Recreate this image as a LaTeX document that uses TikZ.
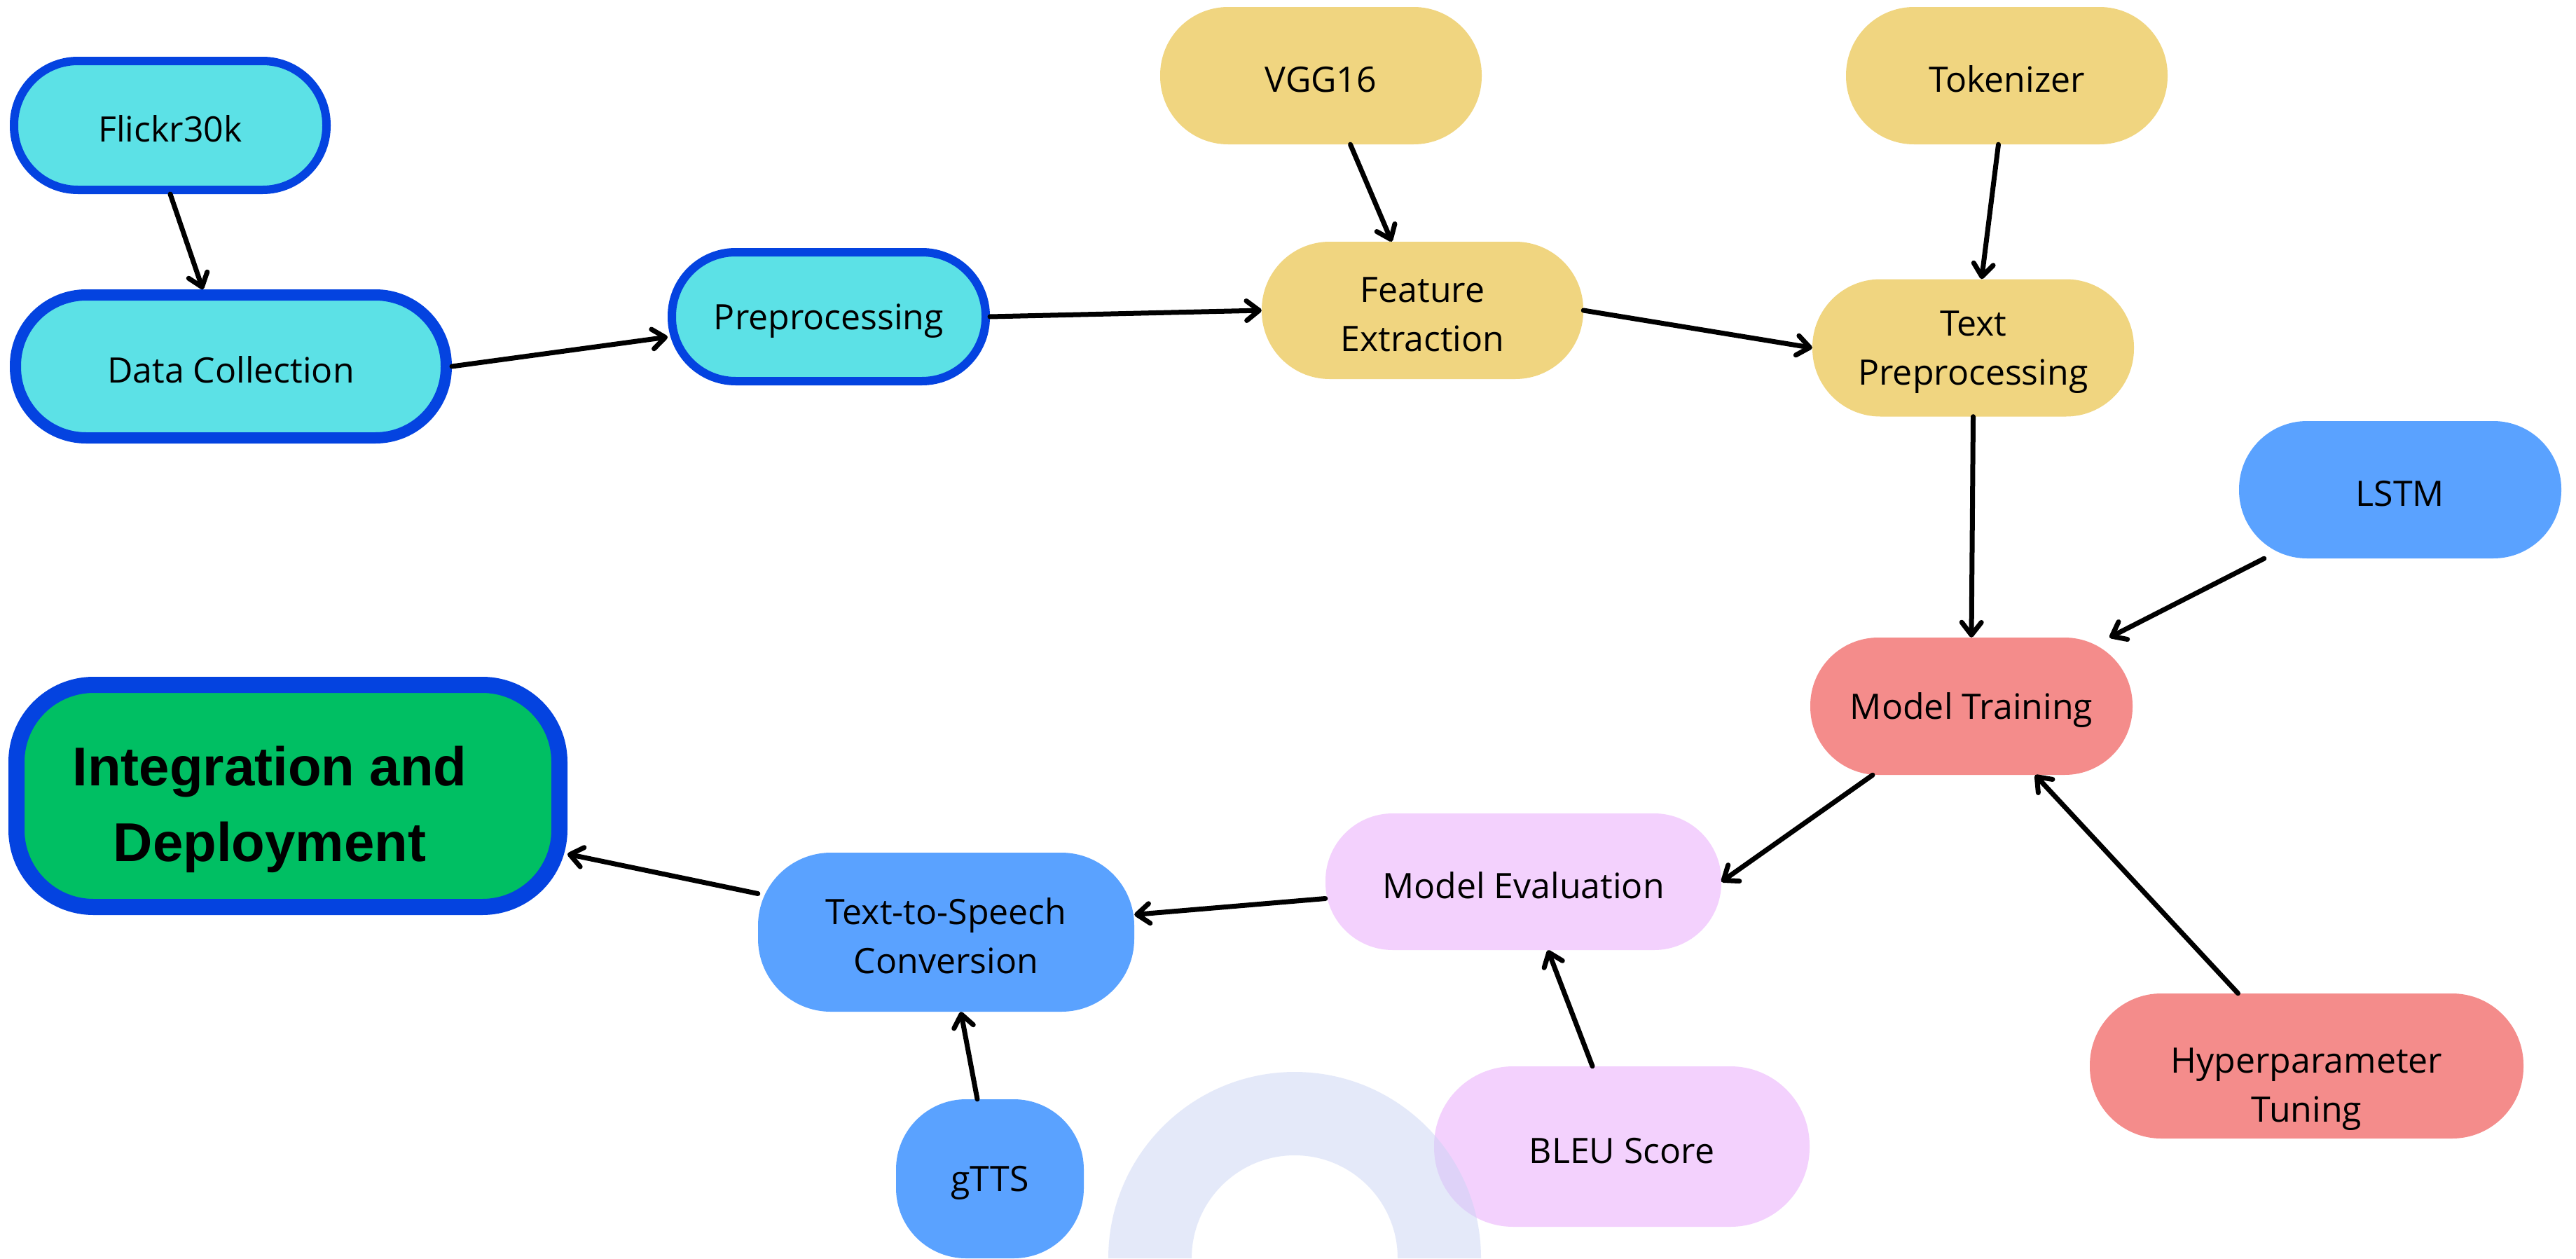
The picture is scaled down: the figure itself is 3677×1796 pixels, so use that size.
\documentclass[tikz,border=0pt]{standalone}
\usepackage{fontspec}
\setmainfont{Open Sans}
\newfontfamily\boldsans{Liberation Sans}
\usetikzlibrary{arrows.meta}
\definecolor{cyanfill}{HTML}{5CE1E6}
\definecolor{royal}{HTML}{0443E0}
\definecolor{sand}{HTML}{F0D580}
\definecolor{sky}{HTML}{5AA2FF}
\definecolor{salmon}{HTML}{F48C8B}
\definecolor{lilac}{HTML}{F3D1FD}
\definecolor{leaf}{HTML}{00BF63}
\definecolor{ringcol}{HTML}{CBD4F5}
\newcommand{\tup}{\rule{0pt}{48pt}}
\begin{document}
\begin{tikzpicture}[x=1pt,y=-1pt,
  nd/.style={rectangle, align=center, inner sep=0pt, text=black,
    font=\fontsize{50}{70}\selectfont},
  cyanbox/.style={nd, fill=cyanfill, draw=royal},
  sandbox/.style={nd, fill=sand, minimum width=459pt, minimum height=196pt, rounded corners=97pt},
  skybox/.style={nd, fill=sky},
  salmonbox/.style={nd, fill=salmon},
  lilacbox/.style={nd, fill=lilac},
  conn/.style={line width=7pt, line cap=round, line join=round,
    -{Straight Barb[length=18pt,width=28pt,line cap=round,line join=round]}}
]
\useasboundingbox (0,0) rectangle (3677,1796);
\fill[white] (0,0) rectangle (3677,1796);

% cyan group
\node[cyanbox, line width=12pt, minimum width=446pt, minimum height=184pt, rounded corners=91pt] (flickr) at (243,179) {\tup Flickr30k};
\node[cyanbox, line width=16pt, minimum width=615pt, minimum height=204pt, rounded corners=101pt] (datacoll) at (329.5,523) {\tup Data Collection};
\node[cyanbox, line width=12pt, minimum width=448pt, minimum height=184pt, rounded corners=91pt] (preproc) at (1183,452) {\tup Preprocessing};

% yellow group
\node[sandbox] (vgg) at (1885.5,108) {\tup VGG16};
\node[sandbox] (tokenizer) at (2864.5,108) {\tup Tokenizer};
\node[sandbox] (featext) at (2030.5,443) {\tup Feature\\Extraction};
\node[sandbox] (textpre) at (2816.5,496.5) {\tup Text\\Preprocessing};

% blue / salmon
\node[skybox, minimum width=460pt, minimum height=196pt, rounded corners=97pt] (lstm) at (3426,699) {\tup LSTM};
\node[salmonbox, minimum width=460pt, minimum height=196pt, rounded corners=97pt] (modtrain) at (2814,1008) {\tup Model Training};
\node[salmonbox, minimum width=619pt, minimum height=207pt, rounded corners=102pt] (hyper) at (3292.5,1521.5) {\rule{0pt}{102pt}Hyperparameter\\Tuning};

% lilac
\node[lilacbox, minimum width=565pt, minimum height=195pt, rounded corners=96pt] (modeval) at (2174.5,1258.5) {\tup Model Evaluation};
\node[lilacbox, minimum width=536pt, minimum height=229pt, rounded corners=113pt] (bleu) at (2315,1636.5) {\tup BLEU Score};

% blue lower
\node[skybox, minimum width=537pt, minimum height=227pt, rounded corners=104pt] (tts) at (1350.5,1330.5) {\tup Text-to-Speech\\Conversion};
\node[skybox, minimum width=268pt, minimum height=227pt, rounded corners=100pt] (gtts) at (1413,1682.5) {\tup gTTS};

% final
\node[nd, fill=leaf, draw=royal, line width=23pt, minimum width=775pt, minimum height=317pt, rounded corners=110pt,
  font=\boldsans\bfseries\fontsize{78}{108}\selectfont] (integ) at (411,1136)
  {\begin{tabular}{@{}c@{}}\rule{0pt}{112pt}Integration and\\Deployment\end{tabular}\hspace*{52pt}};

% background ring (semi-transparent)
\fill[ringcol, fill opacity=0.5] (1582,1796) arc[start angle=180, end angle=0, radius=266pt]
  -- (1995,1796) arc[start angle=0, end angle=180, radius=147pt] -- cycle;

% connectors
\draw[conn] (flickr.south) -- ([xshift=-40pt]datacoll.north);
\draw[conn] (datacoll.east) -- ([yshift=-29pt]preproc.west);
\draw[conn] (preproc.east) -- (featext.west);
\draw[conn] ([xshift=42pt]vgg.south) -- ([xshift=-44pt]featext.north);
\draw[conn] (featext.east) -- (textpre.west);
\draw[conn] ([xshift=-12pt]tokenizer.south) -- ([xshift=12pt]textpre.north);
\draw[conn] (textpre.south) -- (modtrain.north);
\draw[conn] ([xshift=36pt]lstm.south west) -- ([xshift=-33pt]modtrain.north east);
\draw[conn] ([xshift=-98pt]hyper.north) -- ([xshift=91pt]modtrain.south);
\draw[conn] ([xshift=-141pt]modtrain.south) -- (modeval.east);
\draw[conn] ([xshift=-42pt]bleu.north) -- ([xshift=35pt]modeval.south);
\draw[conn] ([yshift=-24pt]modeval.west) -- ([yshift=25pt]tts.east);
\draw[conn] ([xshift=-18pt]gtts.north) -- ([xshift=21pt]tts.south);
\draw[conn] ([yshift=55pt]tts.west) -- ([yshift=-83pt]integ.east);
\end{tikzpicture}
\end{document}
